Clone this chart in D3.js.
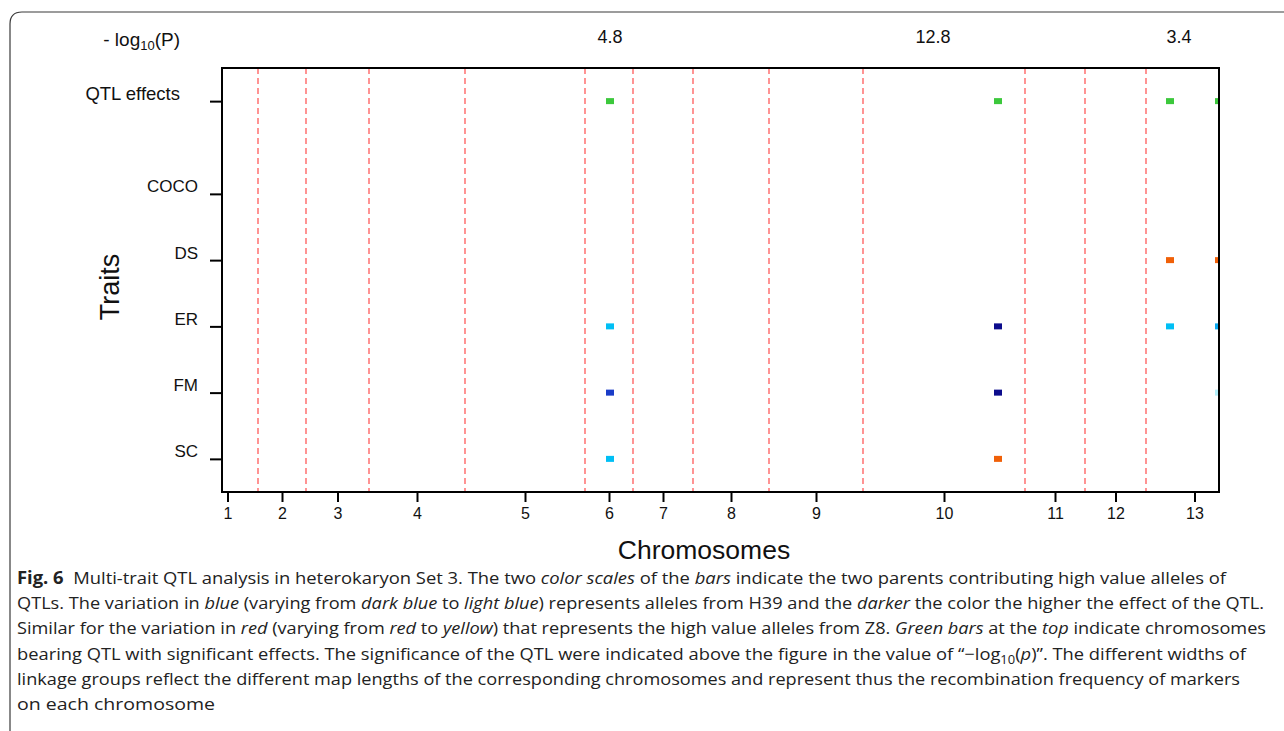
<!DOCTYPE html>
<html>
<head>
<meta charset="utf-8">
<script src="https://cdn.jsdelivr.net/npm/d3@7"></script>
<style>
body{margin:0;background:#fff}
svg{display:block}
</style>
</head>
<body>
<svg width="1284" height="731"></svg>
<script>
var chromosomes = ["1","2","3","4","5","6","7","8","9","10","11","12","13"];
var chrLengths = [61, 48, 63, 96, 120, 48, 60, 76, 94, 162, 60, 61, 97];

// traits on the y axis
var traits = ["QTL effects","COCO","DS","ER","FM","SC"];
var traitRows = [6.4, 5, 4, 3, 2, 1];

// QTL found: chromosome, position on chromosome (cM), trait, colour class
var qtlChr   = ["6","6","6","6", "10","10","10","10", "13","13","13", "13","13","13","13"];
var qtlPos   = [25,25,25,25, 135,135,135,135, 24,24,24, 73,73,73,73];
var qtlTrait = ["QTL effects","ER","FM","SC", "QTL effects","ER","FM","SC",
                "QTL effects","DS","ER", "QTL effects","DS","ER","FM"];
var qtlClass = ["sig","lightblue","blue","lightblue", "sig","navy","navy","red",
                "sig","red","lightblue", "sig","red","blue2","paleblue"];

// -log10(P) above the figure
var sigValues = ["4.8","12.8","3.4"];
var sigChr = ["6","10","13"];
var sigPos = [25, 70, 33];

var colorOpt = {"sig": "#3cc83c",
                "lightblue": "#00bff5",
                "blue": "#1a3cc8",
                "blue2": "#0aa8ee",
                "navy": "#0c0c8c",
                "paleblue": "#b4f0fa",
                "red": "#f06008"};

var svg = d3.select("svg");
var plotLeft = 222, plotRight = 1219, plotTop = 68, plotBottom = 492;

// cumulative starts of each chromosome
var chrStart = [];
var acc = 0;
for (var i in chrLengths){
    chrStart.push(acc);
    acc += chrLengths[i];
}
var chrMid = chrLengths.map(function(l, i){return chrStart[i] + l/2});
var genomePos = function(chr, pos){
    return chrStart[chromosomes.indexOf(chr)] + pos;
}

// the plot shows only a window of the genome (ends of chr 1 and 13 are cut)
var x = d3.scaleLinear().domain([25, 1022]).range([plotLeft, plotRight]);
var y = d3.scaleLinear().domain([0.5, 6.9]).range([plotBottom, plotTop]);

// outer rounded frame of the figure
svg.append("path")
    .attr("d", "M10,731 L10,24 Q10,12 22,12 L1284,12")
    .attr("fill", "none")
    .attr("stroke", "#3a3a3a")
    .attr("stroke-width", 1.2);

svg.append("clipPath").attr("id", "plotclip")
    .append("rect")
    .attr("x", plotLeft).attr("y", plotTop)
    .attr("width", plotRight-plotLeft).attr("height", plotBottom-plotTop);

// chromosome boundaries
var bounds = chrStart.slice(1);
svg.append("g").selectAll("line").data(bounds).enter().append("line")
    .attr("x1", function(d){return x(d)})
    .attr("x2", function(d){return x(d)})
    .attr("y1", plotTop)
    .attr("y2", plotBottom)
    .attr("stroke", "#ff4d4d")
    .attr("stroke-width", 1.2)
    .attr("stroke-dasharray", "6,4");

// QTL bars
svg.append("g").attr("clip-path", "url(#plotclip)")
    .selectAll("rect").data(qtlChr).enter().append("rect")
    .attr("x", function(d, i){return x(genomePos(d, qtlPos[i])) - 4})
    .attr("y", function(d, i){return y(traitRows[traits.indexOf(qtlTrait[i])]) - 3})
    .attr("width", 8)
    .attr("height", 6)
    .attr("fill", function(d, i){return colorOpt[qtlClass[i]]});

// frame of the plot
svg.append("rect")
    .attr("x", plotLeft).attr("y", plotTop)
    .attr("width", plotRight-plotLeft).attr("height", plotBottom-plotTop)
    .attr("fill", "none")
    .attr("stroke", "#000")
    .attr("stroke-width", 2);

// x axis
var xAxis = d3.axisBottom(x)
    .tickValues(chrMid)
    .tickFormat(function(d, i){return chromosomes[i]})
    .tickSize(10)
    .tickPadding(6);
var gx = svg.append("g")
    .attr("transform", "translate(0," + plotBottom + ")")
    .call(xAxis);
gx.select(".domain").remove();
gx.selectAll(".tick line").attr("stroke", "#000").attr("stroke-width", 2);
gx.selectAll(".tick text")
    .attr("font-family", "Liberation Sans, Arial, sans-serif")
    .attr("font-size", 16)
    .attr("fill", "#111");

// y axis
var yAxis = d3.axisLeft(y)
    .tickValues(traitRows)
    .tickFormat(function(d, i){return traits[i]})
    .tickSize(12)
    .tickPadding(12);
var gy = svg.append("g")
    .attr("transform", "translate(" + plotLeft + ",0)")
    .call(yAxis);
gy.select(".domain").remove();
gy.selectAll(".tick line").attr("stroke", "#000").attr("stroke-width", 2);
gy.selectAll(".tick text")
    .attr("font-family", "Liberation Sans, Arial, sans-serif")
    .attr("font-size", function(d, i){return traits[i] == "QTL effects" ? 18.5 : 17})
    .attr("fill", "#111")
    .attr("dy", null)
    .attr("y", -2)
    .attr("x", function(d, i){return traits[i] == "QTL effects" ? -42 : -24});

// axis titles
svg.append("text")
    .attr("x", 704).attr("y", 559)
    .attr("text-anchor", "middle")
    .attr("font-family", "Liberation Sans, Arial, sans-serif")
    .attr("font-size", 26.5)
    .attr("fill", "#111")
    .text("Chromosomes");
svg.append("text")
    .attr("transform", "translate(119,287) rotate(-90)")
    .attr("text-anchor", "middle")
    .attr("font-family", "Liberation Sans, Arial, sans-serif")
    .attr("font-size", 27)
    .attr("fill", "#111")
    .text("Traits");

// -log10(P) header
var head = svg.append("text")
    .attr("x", 180).attr("y", 46)
    .attr("text-anchor", "end")
    .attr("font-family", "Liberation Sans, Arial, sans-serif")
    .attr("font-size", 19)
    .attr("fill", "#111");
head.append("tspan").text("- log");
head.append("tspan").attr("font-size", 13).attr("dy", 4).text("10");
head.append("tspan").attr("dy", -4).text("(P)");

svg.append("g").selectAll("text").data(sigValues).enter().append("text")
    .attr("x", function(d, i){return x(genomePos(sigChr[i], sigPos[i]))})
    .attr("y", 43)
    .attr("text-anchor", "middle")
    .attr("font-family", "Liberation Sans, Arial, sans-serif")
    .attr("font-size", 18)
    .attr("fill", "#111")
    .text(function(d){return d});

// caption
var capLines = [
    [["Fig. 6", "b"], ["  Multi-trait QTL analysis in heterokaryon Set 3. The two ", ""], ["color scales", "i"], [" of the ", ""], ["bars", "i"], [" indicate the two parents contributing high value alleles of", ""]],
    [["QTLs. The variation in ", ""], ["blue", "i"], [" (varying from ", ""], ["dark blue", "i"], [" to ", ""], ["light blue", "i"], [") represents alleles from H39 and the ", ""], ["darker", "i"], [" the color the higher the effect of the QTL.", ""]],
    [["Similar for the variation in ", ""], ["red", "i"], [" (varying from ", ""], ["red", "i"], [" to ", ""], ["yellow", "i"], [") that represents the high value alleles from Z8. ", ""], ["Green bars", "i"], [" at the ", ""], ["top", "i"], [" indicate chromosomes", ""]],
    [["bearing QTL with significant effects. The significance of the QTL were indicated above the figure in the value of \u201c\u2212log", ""], ["10", "sub"], ["(", ""], ["p", "i"], [")\u201d. The different widths of", ""]],
    [["linkage groups reflect the different map lengths of the corresponding chromosomes and represent thus the recombination frequency of markers", ""]],
    [["on each chromosome", ""]]
];
var capEnds = [1226, 1264, 1266, 1246, 1240, 215];

var cap = svg.append("g")
    .attr("font-family", "Open Sans, sans-serif")
    .attr("font-size", 17)
    .attr("fill", "#222");
capLines.forEach(function(line, li){
    var t = cap.append("text")
        .attr("x", 17)
        .attr("y", 584 + li*25.2)
        .attr("xml:space", "preserve")
        .attr("textLength", capEnds[li] - 17)
        .attr("lengthAdjust", "spacingAndGlyphs");
    line.forEach(function(seg){
        var s = t.append("tspan").text(seg[0]);
        if (seg[1] == "b") s.attr("font-weight", "bold");
        if (seg[1] == "i") s.attr("font-style", "italic");
        if (seg[1] == "sub") s.attr("font-size", 12).attr("baseline-shift", "-30%");
    });
});
</script>
</body>
</html>
